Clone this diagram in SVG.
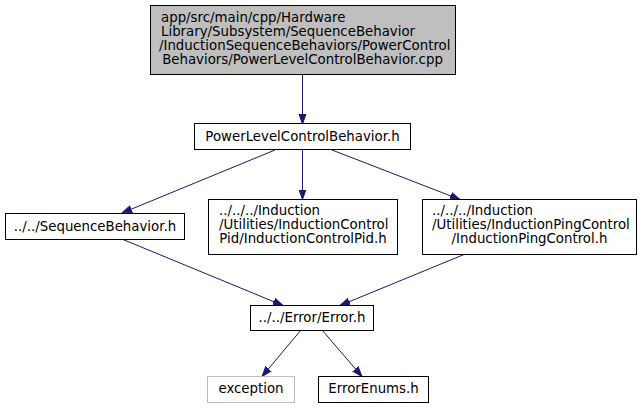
<svg xmlns="http://www.w3.org/2000/svg" width="643" height="409" viewBox="0 0 643 409">
<style>
.n{fill:#ffffff;stroke:#000000;stroke-width:1}
.g{fill:#bfbfbf;stroke:#000000;stroke-width:1}
.l{fill:#ffffff;stroke:#bfbfbf;stroke-width:1}
text{font-family:"DejaVu Sans",sans-serif;font-size:13.33px;fill:#000000}
.m{text-anchor:middle}
.e{fill:none;stroke:#191970;stroke-width:1}
</style>
<defs>
<marker id="a" viewBox="0 0 10 10" refX="10" refY="5" markerWidth="10" markerHeight="10" markerUnits="userSpaceOnUse" orient="auto">
<path d="M0,1.5 L10,5 L0,8.5 Z" fill="#191970" stroke="#191970"/>
</marker>
</defs>
<rect width="643" height="409" fill="#ffffff"/>
<g id="edges">
<path class="e" d="M302.5,75 L302.5,124" marker-end="url(#a)"/>
<path class="e" d="M275,150 L122,213" marker-end="url(#a)"/>
<path class="e" d="M302.5,150 L302.5,199.5" marker-end="url(#a)"/>
<path class="e" d="M332,150 L460,199.5" marker-end="url(#a)"/>
<path class="e" d="M123,239.5 L283,305.5" marker-end="url(#a)"/>
<path class="e" d="M464,254.5 L340,305.5" marker-end="url(#a)"/>
<path class="e" d="M301,330 L262,376.5" marker-end="url(#a)"/>
<path class="e" d="M322,330 L362,376.5" marker-end="url(#a)"/>
</g>
<g id="node1">
<rect class="g" x="150.5" y="5.5" width="305" height="69"/>
<text x="161" y="22">app/src/main/cpp/Hardware</text>
<text x="161" y="36">Library/Subsystem/SequenceBehavior</text>
<text x="159" y="50">/InductionSequenceBehaviors/PowerControl</text>
<text class="m" x="302.5" y="64">Behaviors/PowerLevelControlBehavior.cpp</text>
</g>
<g id="node2">
<rect class="n" x="194.5" y="123.5" width="216" height="26"/>
<text class="m" x="302.5" y="141">PowerLevelControlBehavior.h</text>
</g>
<g id="node3">
<rect class="n" x="5.5" y="213.5" width="179" height="26"/>
<text class="m" x="95" y="231">../../SequenceBehavior.h</text>
</g>
<g id="node4">
<rect class="n" x="208.5" y="199.5" width="189" height="55"/>
<text x="219" y="215">../../../Induction</text>
<text x="219" y="229">/Utilities/InductionControl</text>
<text class="m" x="303" y="243">Pid/InductionControlPid.h</text>
</g>
<g id="node5">
<rect class="n" x="422.5" y="199.5" width="214" height="55"/>
<text x="432" y="215">../../../Induction</text>
<text x="432" y="229">/Utilities/InductionPingControl</text>
<text class="m" x="529.5" y="243">/InductionPingControl.h</text>
</g>
<g id="node6">
<rect class="n" x="250.5" y="305.5" width="123" height="25"/>
<text class="m" x="312" y="322">../../Error/Error.h</text>
</g>
<g id="node7">
<rect class="l" x="207.5" y="376.5" width="87" height="26"/>
<text class="m" x="251" y="393">exception</text>
</g>
<g id="node8">
<rect class="n" x="318.5" y="376.5" width="110" height="26"/>
<text class="m" x="373.5" y="393">ErrorEnums.h</text>
</g>
</svg>
